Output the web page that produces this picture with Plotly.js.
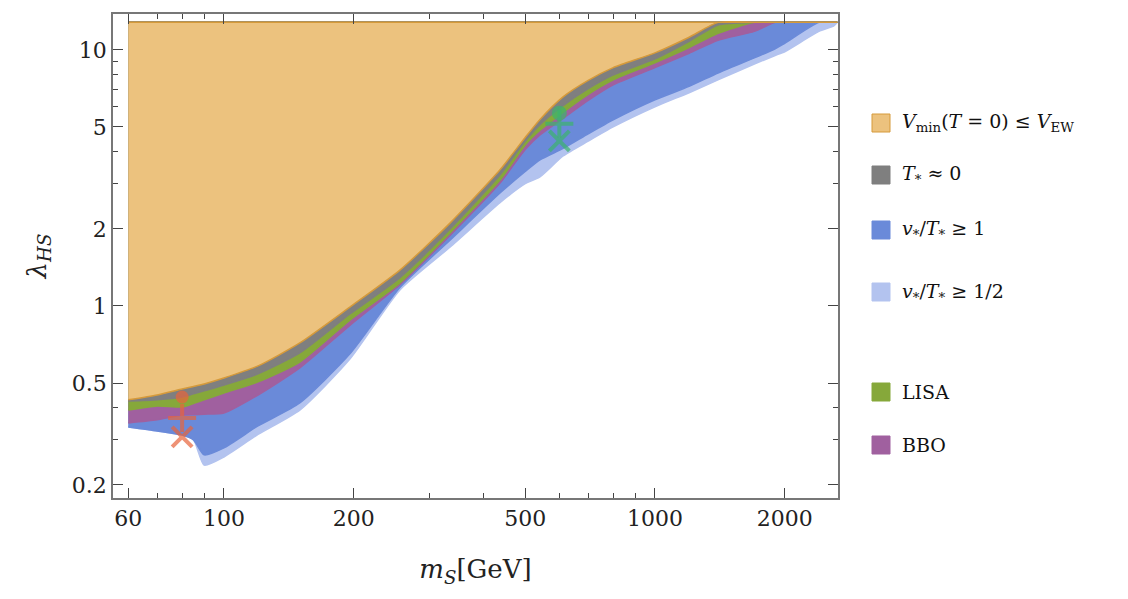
<!DOCTYPE html>
<html>
<head>
<meta charset="utf-8">
<script src="https://cdn.plot.ly/plotly-3.0.1.min.js"></script>
<style>body{margin:0;background:#fff}</style>
</head>
<body>
<div id="chart" style="width:1128px;height:599px"></div>
<script>
// sample masses (GeV) and band boundaries (lambda_HS)
const mS      = [60,    70,    80,    85,    90,    100,   120,   150,   196,  256,  335,  437,  500,  541,  612,  700,  800,  1000, 1200, 1400, 1700, 1900, 2000, 2400, 2600, 2650];
const vminLow = [0.430, 0.449, 0.474, 0.485, 0.496, 0.523, 0.583, 0.717, 0.99, 1.38, 2.11, 3.40, 4.55, 5.35, 6.55, 7.6,  8.52, 9.73, 11.2, 12.8, 12.8, 12.8, 12.8, 12.8, 12.8, 12.8];
const greyLow = [0.425, 0.430, 0.441, 0.454, 0.466, 0.491, 0.543, 0.655, 0.93, 1.29, 2.00, 3.25, 4.40, 5.10, 6.05, 7.05, 7.98, 9.22, 10.8, 12.5, 12.8, 12.8, 12.8, 12.8, 12.8, 12.8];
const lisaLow = [0.392, 0.407, 0.403, 0.416, 0.430, 0.457, 0.505, 0.604, 0.88, 1.23, 1.93, 3.10, 4.25, 4.85, 5.70, 6.7,  7.63, 8.90, 10.2, 11.6, 12.8, 12.8, 12.8, 12.8, 12.8, 12.8];
const bboLow  = [0.349, 0.359, 0.375, 0.376, 0.378, 0.382, 0.449, 0.573, 0.84, 1.21, 1.89, 3.02, 4.08, 4.65, 5.40, 6.35, 7.30, 8.52, 9.7,  10.9, 11.8, 12.8, 12.8, 12.8, 12.8, 12.8];
const oneLow  = [0.337, 0.325, 0.313, 0.300, 0.262, 0.279, 0.340, 0.418, 0.65, 1.18, 1.81, 2.76, 3.35, 3.72, 4.12, 4.7,  5.33, 6.38, 7.2,  8.12, 9.3,  10.1, 10.6, 12.8, 12.8, 12.8];
const halfLow = [0.337, 0.325, 0.313, 0.300, 0.239, 0.257, 0.315, 0.392, 0.62, 1.155,1.70, 2.53, 3.00, 3.19, 3.85, 4.4,  5.00, 5.99, 6.8,  7.63, 8.8,  9.5,  9.83, 11.8, 12.4, 12.8];
const yTop = 12.8;

const benchX = [80, 80, 80, 600, 600, 600];
const benchY = [0.441, 0.365, 0.308, 5.66, 5.14, 4.41];
const benchSym = ['circle', 'cross-thin', 'x-thin', 'circle', 'cross-thin', 'x-thin'];
const benchCol = ['#e8643c', '#e8643c', '#e8643c', '#3cb46e', '#3cb46e', '#3cb46e'];

const legendLabels = [
  '<i>V</i><sub>min</sub>(<i>T</i> = 0) ≤ <i>V</i><sub>EW</sub>',
  '<i>T</i><sub>*</sub> ≈ 0',
  '<i>v</i><sub>*</sub>/<i>T</i><sub>*</sub> ≥ 1',
  '<i>v</i><sub>*</sub>/<i>T</i><sub>*</sub> ≥ 1/2',
  'LISA',
  'BBO'
];
const legendColors = ['#ecc27e', '#7f7f7f', '#6a8ad9', '#b3c3ef', '#86a83a', '#a0609f'];
const legendY = [123, 175, 230, 292, 392, 445];

function band(low, fill, line) {
  const top = mS.map(() => yTop);
  return {
    x: mS.concat(mS.slice().reverse()),
    y: low.concat(top.slice().reverse()),
    type: 'scatter', mode: 'lines', fill: 'toself', fillcolor: fill,
    line: {color: line, width: 1.5, shape: 'spline', smoothing: 0.6}, hoverinfo: 'skip', showlegend: false
  };
}

const data = [
  band(halfLow, '#b3c3ef', '#b3c3ef'),
  band(oneLow, '#6a8ad9', '#6a8ad9'),
  band(bboLow, '#a0609f', '#a0609f'),
  band(lisaLow, '#86a83a', '#86a83a'),
  band(greyLow, '#7f7f7f', '#7f7f7f'),
  band(vminLow, '#ecc27e', '#d69a3a'),
  {
    x: benchX, y: benchY, type: 'scatter', mode: 'markers', showlegend: false,
    marker: {symbol: benchSym, color: benchCol, size: [9, 20, 20, 11, 20, 20],
             line: {color: benchCol, width: 4}}
  }
];

const xMinor = [70, 80, 90, 300, 400, 600, 700, 800, 900];
const yMinor = [0.3, 0.4, 3, 4, 6, 7, 8, 9];
const font = {family: 'DejaVu Serif, Liberation Serif, serif', size: 22, color: '#222'};

const shapes = legendColors.map((c, i) => ({
  type: 'rect', xref: 'paper', yref: 'paper',
  x0: (872 - 113) / 725, x1: (890 - 113) / 725,
  y0: (498 - legendY[i] - 9) / 484, y1: (498 - legendY[i] + 9) / 484,
  fillcolor: c, line: {color: c === '#ecc27e' ? '#d69a3a' : c, width: 1}
}));
const annotations = legendLabels.map((t, i) => ({
  xref: 'paper', yref: 'paper', x: (900 - 113) / 725, y: (498 - legendY[i]) / 484,
  xanchor: 'left', yanchor: 'middle', text: t, showarrow: false,
  font: {family: font.family, size: 19, color: '#111'}
}));

const layout = {
  width: 1128, height: 599,
  margin: {l: 113, r: 290, t: 14, b: 101},
  paper_bgcolor: '#fff', plot_bgcolor: '#fff', font: font,
  xaxis: {
    type: 'log', range: [Math.log10(55.3), Math.log10(2658)],
    tickvals: [60, 100, 200, 500, 1000, 2000], ticktext: ['60', '100', '200', '500', '1000', '2000'],
    ticks: 'inside', ticklen: 10, tickcolor: '#444', showgrid: false, zeroline: false,
    showline: true, linecolor: '#777', linewidth: 1.5, mirror: 'ticks',
    title: {text: '<i>m</i><sub><i>S</i></sub>[GeV]', font: {family: font.family, size: 26}, standoff: 30}
  },
  xaxis2: {
    type: 'log', overlaying: 'x', matches: 'x', tickvals: xMinor, showticklabels: false,
    ticks: 'inside', ticklen: 5, tickcolor: '#444', showgrid: false, zeroline: false, mirror: 'ticks', showline: false
  },
  yaxis: {
    type: 'log', range: [-0.75, Math.log10(13.8)],
    tickvals: [0.2, 0.5, 1, 2, 5, 10], ticktext: ['0.2', '0.5', '1', '2', '5', '10'],
    ticks: 'inside', ticklen: 10, tickcolor: '#444', showgrid: false, zeroline: false,
    showline: true, linecolor: '#777', linewidth: 1.5, mirror: 'ticks',
    title: {text: '<i>λ</i><sub><i>HS</i></sub>', font: {family: font.family, size: 26}, standoff: 18}
  },
  yaxis2: {
    type: 'log', overlaying: 'y', matches: 'y', tickvals: yMinor, showticklabels: false,
    ticks: 'inside', ticklen: 5, tickcolor: '#444', showgrid: false, zeroline: false, mirror: 'ticks', showline: false
  },
  shapes: shapes,
  annotations: annotations
};

// invisible trace so the minor-tick axes are drawn
data.push({x: [100], y: [1], xaxis: 'x2', yaxis: 'y2', type: 'scatter', mode: 'markers',
           marker: {opacity: 0}, hoverinfo: 'skip', showlegend: false});

Plotly.newPlot('chart', data, layout, {displayModeBar: false});
</script>
</body>
</html>
